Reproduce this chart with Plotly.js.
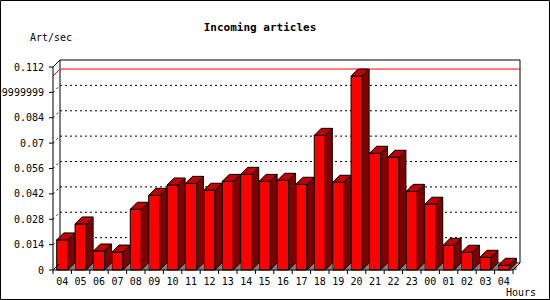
<!DOCTYPE html>
<html><head><meta charset="utf-8">
<script src="https://cdn.plot.ly/plotly-3.0.1.min.js"></script>
<style>html,body{margin:0;padding:0;background:#fff}</style></head>
<body><div id="chart" style="width:550px;height:300px"></div>
<script>
// ---- data ----
const hours = ["04","05","06","07","08","09","10","11","12","13","14","15","16","17","18","19","20","21","22","23","00","01","02","03","04"];
const rates = [0.0166,0.0254,0.0105,0.0099,0.0335,0.0412,0.0469,0.0478,
               0.0440,0.0489,0.0528,0.0489,0.0495,0.0473,0.0743,0.0484,0.1070,0.0644,
               0.0622,0.0434,0.0363,0.0136,0.0098,0.0070,0.0026];
const yTickVals = [0,0.014,0.028,0.042,0.056,0.07,0.084,0.098,0.112];
const yTickText = ["0","0.014","0.028","0.042","0.056","0.07","0.084","0.09799999999","0.112"];

// ---- geometry (pixel scale of the pseudo-3D box) ----
const PX_X = 18.4, PX_Y = 203/0.112;
const DX = 7/PX_X, DY = 7/PX_Y, W = 0.6;
const n = hours.length;
const idx = hours.map((_, i) => i);
const xLo = -0.5, xHi = n - 0.5;
const yTop = yTickVals[yTickVals.length - 1];
const maxV = Math.max(...rates);

const tops = {x: [], y: []}, sides = {x: [], y: []}, floors = {x: [], y: []};
idx.forEach((i) => {
  const v = rates[i], l = i - W/2, r = i + W/2;
  tops.x.push(l, l+DX, r+DX, r, l, null);  tops.y.push(v, v+DY, v+DY, v, v, null);
  sides.x.push(r, r, r+DX, r+DX, r, null); sides.y.push(0, v, v+DY, DY, 0, null);
  floors.x.push(r, r+DX, r+DX, r, null);   floors.y.push(0, DY, 0, 0, null);
});

const traces = [
  {type: 'bar', x: idx, y: rates, width: W, hoverinfo: 'skip',
   marker: {color: '#ff0000', line: {color: '#000', width: 1}}},
  {type: 'scatter', mode: 'lines', x: floors.x, y: floors.y, fill: 'toself', fillcolor: '#808080',
   line: {color: '#808080', width: 0.5}, hoverinfo: 'skip'},
  {type: 'scatter', mode: 'lines', x: sides.x, y: sides.y, fill: 'toself', fillcolor: '#800000',
   line: {color: '#000', width: 1}, hoverinfo: 'skip'},
  {type: 'scatter', mode: 'lines', x: tops.x, y: tops.y, fill: 'toself', fillcolor: '#c00000',
   line: {color: '#000', width: 1}, hoverinfo: 'skip'}
];

const L = (x0, y0, x1, y1, extra) => Object.assign({type: 'line', xref: 'x', yref: 'y', x0, y0, x1, y1,
  line: {color: '#000', width: 1}}, extra || {});
const shapes = [];
// back plane
shapes.push({type: 'rect', xref: 'x', yref: 'y', x0: xLo+DX, y0: DY, x1: xHi+DX, y1: yTop+DY,
  line: {color: '#000', width: 1}, layer: 'below'});
// grid lines on the back plane
yTickVals.forEach((v) => {
  if (v > 0 && v < yTop) {
    shapes.push(L(xLo+DX, v+DY, xHi+DX, v+DY, {line: {color: '#000', width: 1, dash: '2px,3px'}, layer: 'below'}));
    shapes.push(L(xLo, v, xLo+DX, v+DY, {line: {color: '#000', width: 1, dash: '2px,3px'}, layer: 'below'}));
  }
  shapes.push(L(xLo - 4/PX_X, v, xLo, v));
});
// max line
shapes.push(L(xLo+DX, maxV+DY, xHi+DX, maxV+DY, {line: {color: '#ff0000', width: 1}, layer: 'below'}));
shapes.push(L(xLo, maxV, xLo+DX, maxV+DY, {line: {color: '#ff0000', width: 1}, layer: 'below'}));
// frame
shapes.push(L(xLo, 0, xLo, yTop));
shapes.push(L(xLo, yTop, xLo+DX, yTop+DY));
shapes.push(L(xLo, 0, xLo+DX, DY));
shapes.push(L(xLo, 0, xHi, 0));
shapes.push(L(xHi, 0, xHi+DX, DY));
for (let k = 0; k <= n; k++) shapes.push(L(xLo+k, 0, xLo+k, -4/PX_Y));
// image border
shapes.push({type: 'rect', xref: 'paper', yref: 'paper',
  x0: (0.5-45)/483, x1: (549.5-45)/483, y0: (278-299.5)/226, y1: (278-0.5)/226,
  line: {color: '#000', width: 1}});

const mono = 'DejaVu Sans Mono, Liberation Mono, monospace';
const layout = {
  width: 550, height: 300,
  margin: {l: 45, r: 22, t: 52, b: 22},
  paper_bgcolor: '#fff', plot_bgcolor: '#fff',
  showlegend: false, bargap: 0,
  title: {text: 'Incoming articles', xref: 'container', yref: 'container',
          x: 260/550, y: 1 - 27/300, xanchor: 'center', yanchor: 'middle',
          font: {family: mono, size: 11, color: '#000', weight: 'bold'}},
  xaxis: {range: [xLo - 8/PX_X, xHi + 15/PX_X], tickvals: idx, ticktext: hours,
          showgrid: false, zeroline: false, showline: false, ticks: '', ticklabelstandoff: -4,
          tickfont: {family: mono, size: 10, color: '#000'}, fixedrange: true},
  yaxis: {range: [-8/PX_Y, (270-52)/PX_Y], tickvals: yTickVals, ticktext: yTickText,
          showgrid: false, zeroline: false, showline: false, ticks: '',
          tickfont: {family: mono, size: 10, color: '#000'}, fixedrange: true},
  shapes: shapes,
  annotations: [
    {text: 'Art/sec', xref: 'paper', yref: 'paper', x: (28-45)/483, y: (278-37)/226,
     xanchor: 'left', yanchor: 'middle', showarrow: false, font: {family: mono, size: 10, color: '#000'}},
    {text: 'Hours', xref: 'paper', yref: 'paper', x: (504-45)/483, y: (278-292)/226,
     xanchor: 'left', yanchor: 'middle', showarrow: false, font: {family: mono, size: 10, color: '#000'}}
  ]
};
Plotly.newPlot('chart', traces, layout, {staticPlot: true, displayModeBar: false});
</script></body></html>
